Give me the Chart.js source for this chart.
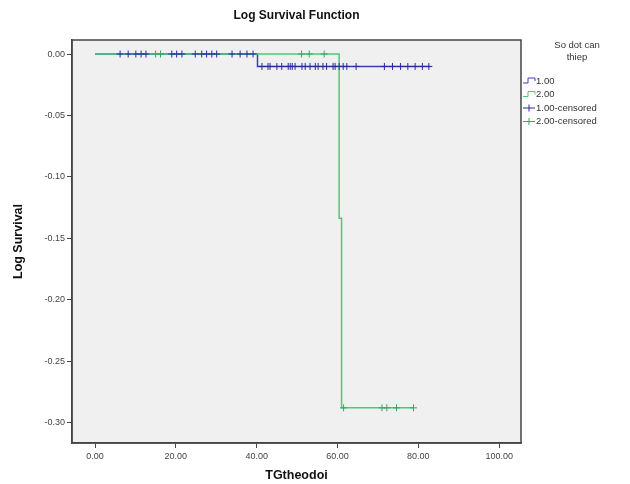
<!DOCTYPE html>
<html>
<head>
<meta charset="utf-8">
<script src="https://cdn.jsdelivr.net/npm/chart.js@4.4.0/dist/chart.umd.min.js"></script>
<style>
    html, body { margin: 0; padding: 0; background: #fff; }
    #wrap { width: 630px; height: 484px; }
</style>
</head>
<body>
<div id="wrap"><canvas id="survChart"></canvas></div>
<script>
const xTicks = [0, 20, 40, 60, 80, 100];
const yTicks = [0, -0.05, -0.10, -0.15, -0.20, -0.25, -0.30];

// step curves: time where the log survival changes and its new level
const group1Times = [0, 40.2, 83.0];
const group1LogSurv = [0, -0.0101, -0.0101];
const group2Times = [0, 60.4, 61.0, 79.0];
const group2LogSurv = [0, -0.1335, -0.2877, -0.2877];

// censored times per group
const group1Censored = [6.2, 8.2, 10.1, 11.4, 12.6, 19.0, 20.2, 21.5, 24.8, 26.4, 27.6, 28.9, 30.1, 33.9, 35.9, 37.6, 39.1,
    41.3, 42.8, 43.3, 45.0, 46.2, 47.8, 48.3, 48.8, 49.5, 51.2, 52.0, 53.2, 54.5, 55.2, 56.4, 57.3, 58.9, 59.4, 60.4, 61.4, 62.3, 64.6,
    71.6, 73.6, 75.6, 77.4, 79.2, 81.0, 82.6];
const group2Censored = [15.0, 16.2, 51.1, 53.0, 56.7, 61.5, 71.0, 72.2, 74.6, 78.8];

const legendTitle = ['So dot can', 'thiep'];
const legendLabels = ['1.00', '2.00', '1.00-censored', '2.00-censored'];

const blue = '#3c3cb8';
const green = '#4cc97a';
const blueMark = '#2a2a9c';
const greenMark = '#36a862';
const fontFamily = '"Liberation Sans", Arial, sans-serif';

function toPoints(times, levels) {
    return times.map((t, i) => ({ x: t, y: levels[i] }));
}

// censored marks sit on the curve of their group
function levelAt(times, levels, t) {
    let lv = levels[0];
    for (let i = 0; i < times.length; i++) {
        if (times[i] <= t) lv = levels[i];
    }
    return lv;
}

function censoredPoints(cens, times, levels) {
    return cens.map(t => ({ x: t, y: levelAt(times, levels, t) }));
}

const framePlugin = {
    id: 'frame',
    beforeDraw(chart) {
        const { ctx, chartArea: a } = chart;
        ctx.save();
        ctx.fillStyle = '#f0f0f0';
        ctx.fillRect(a.left, a.top, a.right - a.left, a.bottom - a.top);
        ctx.restore();
    },
    afterDraw(chart) {
        const { ctx, chartArea: a } = chart;
        ctx.save();
        ctx.strokeStyle = '#444';
        ctx.lineWidth = 1.5;
        ctx.strokeRect(a.left, a.top, a.right - a.left, a.bottom - a.top);

        // title
        ctx.fillStyle = '#111';
        ctx.font = 'bold 12px ' + fontFamily;
        ctx.textAlign = 'center';
        ctx.textBaseline = 'middle';
        ctx.fillText('Log Survival Function', (a.left + a.right) / 2, 16);

        // legend
        const lx = a.right + 2;
        ctx.font = '9.5px ' + fontFamily;
        ctx.fillStyle = '#333';
        ctx.fillText(legendTitle[0], 577, 45);
        ctx.fillText(legendTitle[1], 577, 57);
        ctx.textAlign = 'left';
        const colors = [blue, green, blueMark, greenMark];
        legendLabels.forEach((lab, i) => {
            const y = 81 + i * 13.5;
            ctx.strokeStyle = colors[i];
            ctx.lineWidth = 1;
            ctx.beginPath();
            if (i < 2) {
                ctx.moveTo(lx, y + 2);
                ctx.lineTo(lx + 5, y + 2);
                ctx.lineTo(lx + 5, y - 3);
                ctx.lineTo(lx + 12, y - 3);
                ctx.lineTo(lx + 12, y);
            } else {
                ctx.moveTo(lx, y);
                ctx.lineTo(lx + 12, y);
                ctx.moveTo(lx + 6, y - 3.5);
                ctx.lineTo(lx + 6, y + 3.5);
            }
            ctx.stroke();
            ctx.fillStyle = '#333';
            ctx.fillText(lab, lx + 13, y);
        });
        ctx.restore();
    }
};

const tickFont = { family: fontFamily, size: 9 };
const titleFont = { family: fontFamily, size: 12.5, weight: 'bold' };

const config = {
    type: 'scatter',
    data: {
        datasets: [
            {
                label: '1.00',
                data: toPoints(group1Times, group1LogSurv),
                showLine: true,
                stepped: 'before',
                borderColor: blue,
                borderWidth: 1.5,
                pointRadius: 0,
                order: 4
            },
            {
                label: '2.00',
                data: toPoints(group2Times, group2LogSurv),
                showLine: true,
                stepped: 'before',
                borderColor: green,
                borderWidth: 1.5,
                pointRadius: 0,
                order: 3
            },
            {
                label: '1.00-censored',
                data: censoredPoints(group1Censored, group1Times, group1LogSurv),
                pointStyle: 'cross',
                pointRadius: 3.5,
                borderColor: blueMark,
                borderWidth: 1,
                order: 2
            },
            {
                label: '2.00-censored',
                data: censoredPoints(group2Censored, group2Times, group2LogSurv),
                pointStyle: 'cross',
                pointRadius: 3.5,
                borderColor: greenMark,
                borderWidth: 1,
                order: 1
            }
        ]
    },
    options: {
        responsive: true,
        maintainAspectRatio: false,
        animation: false,
        layout: { padding: { left: 0, top: 40, right: 109, bottom: 0 } },
        scales: {
            x: {
                type: 'linear',
                min: -5.7,
                max: 105.4,
                afterBuildTicks: s => { s.ticks = xTicks.map(v => ({ value: v })); },
                afterFit: s => { s.height = 41; },
                grid: { drawOnChartArea: false, drawTicks: true, tickLength: 5, color: '#444' },
                border: { display: true, color: '#444', width: 1.5 },
                ticks: {
                    font: tickFont, color: '#444', padding: 3, maxRotation: 0,
                    callback: v => v.toFixed(2)
                },
                title: { display: true, text: 'TGtheodoi', font: titleFont, color: '#111', padding: { top: 2, bottom: 1 } }
            },
            y: {
                type: 'linear',
                min: -0.3163,
                max: 0.0114,
                afterBuildTicks: s => { s.ticks = yTicks.map(v => ({ value: v })); },
                afterFit: s => { s.width = 72; },
                grid: { drawOnChartArea: false, drawTicks: true, tickLength: 5, color: '#444' },
                border: { display: true, color: '#444', width: 1.5 },
                ticks: {
                    font: tickFont, color: '#444', padding: 2,
                    callback: v => v.toFixed(2)
                },
                title: { display: true, text: 'Log Survival', font: titleFont, color: '#111', padding: { top: 11, bottom: 2 } }
            }
        },
        plugins: {
            legend: { display: false },
            tooltip: { enabled: false }
        }
    },
    plugins: [framePlugin]
};

new Chart(document.getElementById('survChart').getContext('2d'), config);
</script>
</body>
</html>
